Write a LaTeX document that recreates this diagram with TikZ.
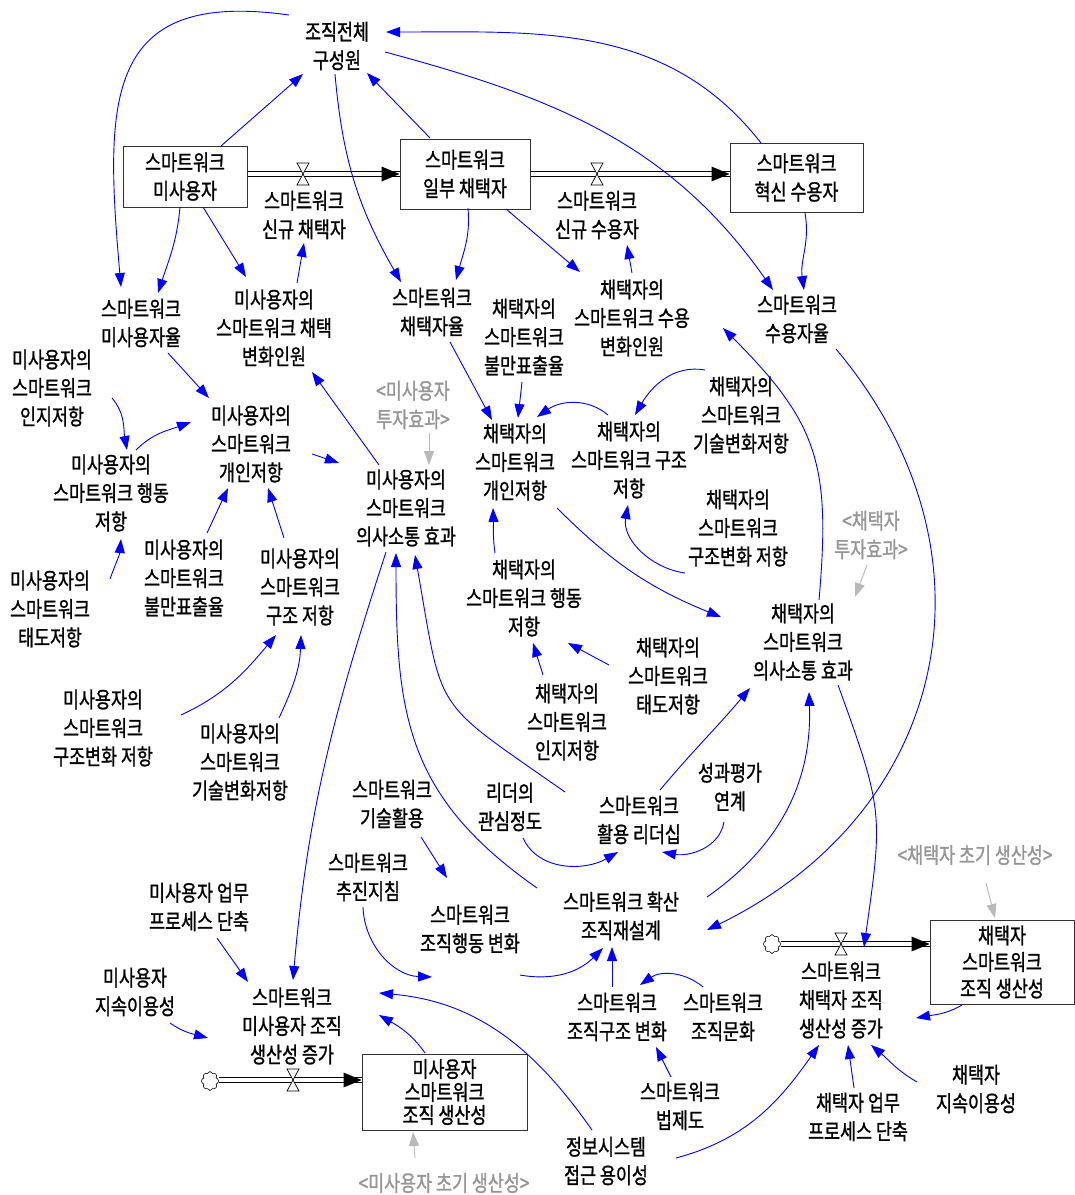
\documentclass[tikz,border=0pt]{standalone}
\usepackage{fontspec}
\usetikzlibrary{arrows.meta,shapes.symbols}
\newfontfamily\kr[FakeStretch=0.79,FakeBold=1.2]{Noto Sans CJK KR}
\newcommand\krf{\kr\fontsize{22}{28.5}\selectfont}
\definecolor{linkc}{RGB}{0,0,255}
\definecolor{ghostc}{RGB}{150,150,150}
\definecolor{glinkc}{RGB}{185,185,185}
\definecolor{stockc}{RGB}{50,50,50}
\tikzset{
  var/.style={font=\krf, align=center, inner sep=4pt},
  ghost/.style={var, text=ghostc},
  stockbox/.style={draw=stockc, line width=1pt, align=center, font=\krf, inner sep=0pt},
  link/.style={draw=linkc, line width=0.9pt, -{Triangle[length=14pt,width=10pt]}},
  glink/.style={draw=glinkc, line width=0.9pt, -{Triangle[length=14pt,width=10pt]}},
  pipe/.style={draw=black, line width=1.1pt, double=white, double distance=3.6pt},
  valvest/.style={draw=black, line width=0.7pt, fill=white},
  cloudst/.style={cloud, cloud puffs=8, draw=black, line width=0.6pt, fill=white, minimum width=17pt, minimum height=19pt, inner sep=0pt, aspect=0.9}
}
\begin{document}
\begin{tikzpicture}[x=1pt,y=1pt]
\useasboundingbox[fill=white] (0,0) rectangle (1075,-1195);

% ---------- stocks, flows ----------
\node[stockbox, minimum width=124pt, minimum height=61pt] (misS) at (185,-176.5) {스마트워크\\미사용자};
\node[stockbox, minimum width=130pt, minimum height=70pt] (partS) at (465,-174) {스마트워크\\일부 채택자};
\node[stockbox, minimum width=133pt, minimum height=69pt] (innoS) at (796.5,-177.5) {스마트워크\\혁신 수용자};
\node[stockbox, minimum width=144pt, minimum height=84pt, font=\kr\fontsize{22}{26.5}\selectfont] (aProdS) at (1002,-962) {채택자\\스마트워크\\조직 생산성};
\node[stockbox, minimum width=165pt, minimum height=76pt, font=\kr\fontsize{22}{23}\selectfont] (mProdS) at (444.5,-1092) {미사용자\\스마트워크\\조직 생산성};

\coordinate (v1) at (303,-174);
\coordinate (v2) at (597,-174);
\coordinate (v3) at (841,-944);
\coordinate (v4) at (293,-1080);
\node[cloudst] (cl3) at (772,-944) {};
\node[cloudst] (cl4) at (210,-1081) {};

\draw[pipe] (misS.east |- v1) -- (partS.west |- v1);
\fill (partS.west |- v1) -- ++(-18,7.5) -- ++(0,-15) -- cycle;
\draw[pipe] (partS.east |- v2) -- (innoS.west |- v2);
\fill (innoS.west |- v2) -- ++(-18,7.5) -- ++(0,-15) -- cycle;
\draw[pipe] (cl3.east |- v3) -- (aProdS.west |- v3);
\fill (aProdS.west |- v3) -- ++(-18,7.5) -- ++(0,-15) -- cycle;
\draw[pipe] (cl4.east |- v4) -- (mProdS.west |- v4);
\fill (mProdS.west |- v4) -- ++(-18,7.5) -- ++(0,-15) -- cycle;
\foreach \v in {v1,v2,v3,v4}{
  \draw[valvest] (\v) ++(-6,11) -- ++(12,0) -- ++(-12,-22) -- ++(12,0) -- cycle;
}

% ---------- variables ----------
\node[var] (org) at (337,-46) {조직전체\\구성원};
\node[var] (r1) at (304,-215) {스마트워크\\신규 채택자};
\node[var] (r2) at (597,-215) {스마트워크\\신규 수용자};
\node[var] (misRate) at (141,-323) {스마트워크\\미사용자율};
\node[var] (misChg) at (274,-328) {미사용자의\\스마트워크 채택\\변화인원};
\node[var] (adRate) at (432,-312) {스마트워크\\채택자율};
\node[var] (adDis) at (524,-337) {채택자의\\스마트워크\\불만표출율};
\node[var] (adChg) at (632,-318) {채택자의\\스마트워크 수용\\변화인원};
\node[var] (acRate) at (797,-319) {스마트워크\\수용자율};
\node[var] (mCog) at (52,-388) {미사용자의\\스마트워크\\인지저항};
\node[var] (mInd) at (251,-444) {미사용자의\\스마트워크\\개인저항};
\node[ghost] (mInv) at (413,-405) {<미사용자\\투자효과>};
\node[var] (aInd) at (515,-462) {채택자의\\스마트워크\\개인저항};
\node[var] (aStr) at (629,-460) {채택자의\\스마트워크 구조\\저항};
\node[var] (aTech) at (741,-415) {채택자의\\스마트워크\\기술변화저항};
\node[var] (mBeh) at (111,-493) {미사용자의\\스마트워크 행동\\저항};
\node[var] (mCom) at (406,-508) {미사용자의\\스마트워크\\의사소통 효과};
\node[var] (aStrC) at (738,-528) {채택자의\\스마트워크\\구조변화 저항};
\node[ghost] (aInv) at (871,-535) {<채택자\\투자효과>};
\node[var] (mDis) at (184,-578) {미사용자의\\스마트워크\\불만표출율};
\node[var] (mStr) at (300,-587) {미사용자의\\스마트워크\\구조 저항};
\node[var] (aBeh) at (524,-598) {채택자의\\스마트워크 행동\\저항};
\node[var] (mAtt) at (50,-609) {미사용자의\\스마트워크\\태도저항};
\node[var] (aCom) at (803,-642) {채택자의\\스마트워크\\의사소통 효과};
\node[var] (aAtt) at (668,-676) {채택자의\\스마트워크\\태도저항};
\node[var] (aCog) at (567,-722) {채택자의\\스마트워크\\인지저항};
\node[var] (mStrC) at (103,-728) {미사용자의\\스마트워크\\구조변화 저항};
\node[var] (mTech) at (240,-762) {미사용자의\\스마트워크\\기술변화저항};
\node[var] (perf) at (730,-787) {성과평가\\연계};
\node[var] (tech) at (392,-804) {스마트워크\\기술활용};
\node[var] (lead) at (510,-807) {리더의\\관심정도};
\node[var] (ldr) at (639,-820) {스마트워크\\활용 리더십};
\node[var] (guide) at (368,-877) {스마트워크\\추진지침};
\node[ghost] (aInit) at (975,-855) {<채택자 초기 생산성>};
\node[var] (mProc) at (199,-907) {미사용자 업무\\프로세스 단축};
\node[var] (beh) at (470,-929) {스마트워크\\조직행동 변화};
\node[var] (redes) at (621,-916) {스마트워크 확산\\조직재설계};
\node[var] (r3) at (841,-1000) {스마트워크\\채택자 조직\\생산성 증가};
\node[var] (mCont) at (135,-992) {미사용자\\지속이용성};
\node[var] (r4) at (292,-1026) {스마트워크\\미사용자 조직\\생산성 증가};
\node[var] (struc) at (617,-1017) {스마트워크\\조직구조 변화};
\node[var] (cult) at (723,-1017) {스마트워크\\조직문화};
\node[var] (law) at (680,-1106) {스마트워크\\법제도};
\node[var] (aCont) at (976,-1089) {채택자\\지속이용성};
\node[var] (aProc) at (858,-1117) {채택자 업무\\프로세스 단축};
\node[var] (info) at (606,-1161) {정보시스템\\접근 용이성};
\node[ghost] (mInit) at (444,-1183) {<미사용자 초기 생산성>};

% ---------- links ----------
\draw[link] ([shift={(36,30.5)}]misS.center) -- ([shift={(-34,-28)}]org.center);
\draw[link] ([shift={(-35,36)}]partS.center) -- ([shift={(30,-27)}]org.center);
\draw[link] ([shift={(-35.5,34.5)}]innoS.center) to[out=128,in=0] ([shift={(49,14)}]org.center);
\draw[link] ([shift={(-48,31)}]org.center) to[out=172,in=95,looseness=1.5] ([shift={(-20,36)}]misRate.center);
\draw[link] ([shift={(-2,-28)}]org.center) to[out=-85,in=120] ([shift={(-31,30)}]adRate.center);
\draw[link] ([shift={(48,-6)}]org.center) to[out=-15,in=125] ([shift={(-24,29)}]acRate.center);
\draw[link] ([shift={(-5,-30.5)}]misS.center) to[out=-95,in=72] ([shift={(17,30)}]misRate.center);
\draw[link] ([shift={(18,-30.5)}]misS.center) -- ([shift={(-28,51)}]misChg.center);
\draw[link] ([shift={(23,45)}]misChg.center) -- ([shift={(0,-28)}]r1.center);
\draw[link] ([shift={(3,-34)}]partS.center) to[out=-85,in=75] ([shift={(24,32)}]adRate.center);
\draw[link] ([shift={(41,-35)}]partS.center) -- ([shift={(-52,46)}]adChg.center);
\draw[link] ([shift={(0,45)}]adChg.center) -- ([shift={(30,-30)}]r2.center);
\draw[link] ([shift={(8.5,-35.5)}]innoS.center) to[out=-80,in=98] ([shift={(7,29)}]acRate.center);
\draw[link] ([shift={(39,-30)}]acRate.center) to[out=-50,in=26,looseness=1.15] ([shift={(86,-14)}]redes.center);
\draw[link] ([shift={(16,42)}]aCom.center) to[out=85,in=-45,looseness=1.2] ([shift={(91,-10)}]adChg.center);
\draw[link] ([shift={(27,-30)}]misRate.center) -- ([shift={(-42,46)}]mInd.center);
\draw[link] ([shift={(60,-10)}]mCog.center) to[out=-50,in=100] ([shift={(16,43)}]mBeh.center);
\draw[link] ([shift={(25,43)}]mBeh.center) to[out=45,in=200] ([shift={(-60,22)}]mInd.center);
\draw[link] ([shift={(60,30)}]mAtt.center) to[out=70,in=-95] ([shift={(10,-46)}]mBeh.center);
\draw[link] ([shift={(23,45)}]mDis.center) -- ([shift={(-23,-44)}]mInd.center);
\draw[link] ([shift={(-16,49)}]mStr.center) -- ([shift={(17,-44)}]mInd.center);
\draw[link] ([shift={(61,-10)}]mInd.center) -- ([shift={(-67,45)}]mCom.center);
\draw[link] ([shift={(-27,43)}]mCom.center) -- ([shift={(38,-44)}]misChg.center);
\draw[glink] ([shift={(16,-28)}]mInv.center) -- ([shift={(23,43)}]mCom.center);
\draw[link] ([shift={(78,13)}]mStrC.center) to[out=25,in=-130] ([shift={(-24,-48)}]mStr.center);
\draw[link] ([shift={(39,44)}]mTech.center) to[out=65,in=-92] ([shift={(1,-48)}]mStr.center);
\draw[link] ([shift={(18,-30)}]adRate.center) -- ([shift={(-23,42)}]aInd.center);
\draw[link] ([shift={(-2,-45)}]adDis.center) -- ([shift={(3,44)}]aInd.center);
\draw[link] ([shift={(-21,45)}]aStr.center) to[out=140,in=35] ([shift={(22,45)}]aInd.center);
\draw[link] ([shift={(-36,45)}]aTech.center) to[out=170,in=60] ([shift={(6,45)}]aStr.center);
\draw[link] ([shift={(-53,-45)}]aStrC.center) to[out=172,in=-100] ([shift={(-1,-45)}]aStr.center);
\draw[link] ([shift={(-29,45)}]aBeh.center) to[out=98,in=-88] ([shift={(-22,-46)}]aInd.center);
\draw[link] ([shift={(42,-46)}]aInd.center) to[out=-45,in=158] ([shift={(-82,25)}]aCom.center);
\draw[link] ([shift={(-59,11)}]aAtt.center) -- ([shift={(44,-45)}]aBeh.center);
\draw[link] ([shift={(-24,47)}]aCog.center) -- ([shift={(9,-45)}]aBeh.center);
\draw[glink] ([shift={(-4,-30)}]aInv.center) -- ([shift={(52,45)}]aCom.center);
\draw[link] ([shift={(35,-43)}]aCom.center) to[out=-70,in=82,looseness=1.3] ([shift={(23,53)}]r3.center);
\draw[link] ([shift={(21,30)}]ldr.center) to[out=50,in=-130] ([shift={(-53,-46)}]aCom.center);
\draw[link] ([shift={(86,19)}]redes.center) to[out=35,in=-88] ([shift={(6,-50)}]aCom.center);
\draw[link] ([shift={(-74,28)}]ldr.center) to[out=145,in=-80,looseness=1.5] ([shift={(9,-47)}]mCom.center);
\draw[link] ([shift={(-84,28)}]redes.center) to[out=145,in=-90,looseness=1.13] ([shift={(-10,-45)}]mCom.center);
\draw[link] ([shift={(-20,-44)}]mCom.center) to[out=-108,in=85] ([shift={(1,46)}]r4.center);
\draw[link] ([shift={(13,-31)}]lead.center) to[out=-65,in=-150] ([shift={(-21,-32)}]ldr.center);
\draw[link] ([shift={(-6,-35)}]perf.center) to[out=-100,in=-10] ([shift={(23,-32)}]ldr.center);
\draw[link] ([shift={(29,-33)}]tech.center) -- ([shift={(-23,51)}]beh.center);
\draw[link] ([shift={(-5,-30)}]guide.center) to[out=-88,in=178] ([shift={(-38,-48)}]beh.center);
\draw[link] ([shift={(50,-46)}]beh.center) to[out=-10,in=-135] ([shift={(-18,-32)}]redes.center);
\draw[link] ([shift={(-5,30)}]struc.center) -- ([shift={(-9,-31)}]redes.center);
\draw[link] ([shift={(-20,30)}]cult.center) to[out=140,in=35] ([shift={(23,32)}]struc.center);
\draw[link] ([shift={(-9,29)}]law.center) -- ([shift={(39,-30)}]struc.center);
\draw[link] ([shift={(-14,31)}]info.center) to[out=125,in=-5] ([shift={(87,33)}]r4.center);
\draw[link] ([shift={(70,3)}]info.center) to[out=15,in=-125] ([shift={(-22,-45)}]r3.center);
\draw[link] ([shift={(-4,29)}]aProc.center) -- ([shift={(7,-45)}]r3.center);
\draw[link] ([shift={(-59,7)}]aCont.center) to[out=150,in=-40] ([shift={(30,-45)}]r3.center);
\draw[link] ([shift={(-40,-43)}]aProdS.center) to[out=-150,in=10] ([shift={(75,-18)}]r3.center);
\draw[glink] ([shift={(11,-28)}]aInit.center) -- ([shift={(-7,44)}]aProdS.center);
\draw[link] ([shift={(-19.5,39)}]mProdS.center) to[out=125,in=-30] ([shift={(87,11)}]r4.center);
\draw[link] ([shift={(18,-31)}]mProc.center) -- ([shift={(-44,44)}]r4.center);
\draw[link] ([shift={(35,-31)}]mCont.center) to[out=-35,in=165] ([shift={(-84,-12)}]r4.center);
\draw[glink] ([shift={(-29,25)}]mInit.center) -- ([shift={(-31.5,-40)}]mProdS.center);
\end{tikzpicture}
\end{document}
